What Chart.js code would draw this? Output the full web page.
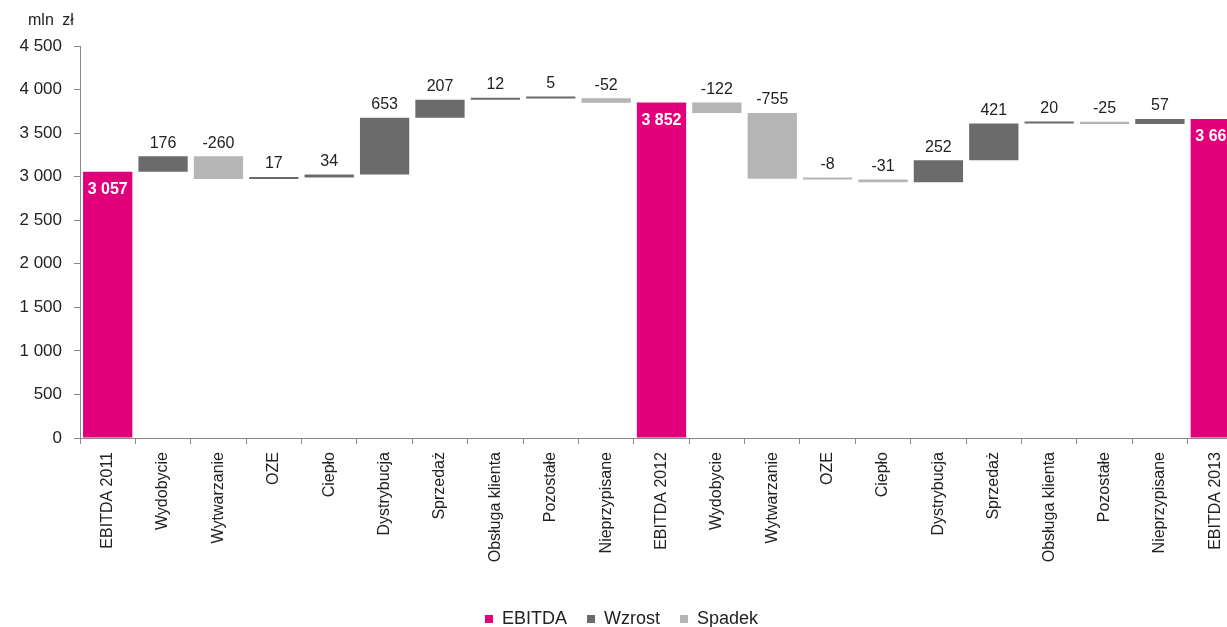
<!DOCTYPE html>
<html>
<head>
<meta charset="utf-8">
<script src="https://cdn.jsdelivr.net/npm/chart.js@4.4.0/dist/chart.umd.min.js"></script>
<style>
  body { margin: 0; overflow: hidden; background: #fff; }
  #wrap { position: relative; width: 1264px; height: 627px; }
  #unit { position: absolute; left: 28px; top: 11px; font: 16px "Liberation Sans", Arial, sans-serif; color: #222; word-spacing: 4px; }
</style>
</head>
<body>
<div id="wrap">
  <div id="unit">mln zł</div>
  <canvas id="chart" width="1264" height="627"></canvas>
</div>
<script>
// EBITDA bridge 2011 -> 2012 -> 2013, mln zł
const categories = ['EBITDA 2011', 'Wydobycie', 'Wytwarzanie', 'OZE', 'Ciepło', 'Dystrybucja', 'Sprzedaż',
  'Obsługa klienta', 'Pozostałe', 'Nieprzypisane', 'EBITDA 2012', 'Wydobycie', 'Wytwarzanie', 'OZE', 'Ciepło',
  'Dystrybucja', 'Sprzedaż', 'Obsługa klienta', 'Pozostałe', 'Nieprzypisane', 'EBITDA 2013'];
const values = [3057, 176, -260, 17, 34, 653, 207, 12, 5, -52, 3852, -122, -755, -8, -31, 252, 421, 20, -25, 57, 3661];
const totals = [0, 10, 20];   // indices of the EBITDA columns
const yTicks = [0, 500, 1000, 1500, 2000, 2500, 3000, 3500, 4000, 4500];

const PINK = '#e2007a', DARK = '#6b6b6b', LIGHT = '#b5b5b5';

const fmt = v => String(v).replace(/\B(?=(\d{3})+(?!\d))/g, ' ');

// floating ranges for the waterfall
const ebitda = [], up = [], down = [];
let run = 0;
values.forEach((v, i) => {
  if (totals.includes(i)) {
    ebitda.push([0, v]); up.push(null); down.push(null);
    run = v;
  } else {
    const r = [run, run + v];
    ebitda.push(null);
    up.push(v >= 0 ? r : null);
    down.push(v < 0 ? r : null);
    run += v;
  }
});

const valueLabels = {
  id: 'valueLabels',
  afterDatasetsDraw(chart) {
    const ctx = chart.ctx;
    ctx.save();
    ctx.textAlign = 'center';
    chart.data.datasets.forEach((ds, di) => {
      chart.getDatasetMeta(di).data.forEach((bar, i) => {
        if (!ds.data[i]) return;
        const top = Math.min(bar.y, bar.base);
        if (di === 0) {
          ctx.fillStyle = '#fff';
          ctx.font = 'bold 16px "Liberation Sans", Arial, sans-serif';
          ctx.textBaseline = 'middle';
          ctx.fillText(fmt(values[i]), bar.x, top + 18);
        } else {
          ctx.fillStyle = '#222';
          ctx.font = '16px "Liberation Sans", Arial, sans-serif';
          ctx.textBaseline = 'bottom';
          ctx.fillText(fmt(values[i]), bar.x, top - 5);
        }
      });
    });
    ctx.restore();
  }
};

const barCommon = { grouped: false, barPercentage: 0.89, categoryPercentage: 1.0, borderWidth: 0, minBarLength: 2 };

new Chart(document.getElementById('chart'), {
  type: 'bar',
  data: {
    labels: categories,
    datasets: [
      Object.assign({ label: 'EBITDA', data: ebitda, backgroundColor: PINK }, barCommon),
      Object.assign({ label: 'Wzrost', data: up, backgroundColor: DARK }, barCommon),
      Object.assign({ label: 'Spadek', data: down, backgroundColor: LIGHT }, barCommon)
    ]
  },
  options: {
    responsive: false,
    animation: false,
    layout: { padding: { top: 46, right: 21, left: 0, bottom: -11 } },
    plugins: {
      tooltip: { enabled: false },
      legend: {
        position: 'bottom',
        labels: {
          boxWidth: 8, boxHeight: 8, padding: 20,
          color: '#222',
          font: { family: '"Liberation Sans", Arial, sans-serif', size: 18 }
        }
      }
    },
    scales: {
      x: {
        grid: { offset: true, drawOnChartArea: false, tickLength: 6, color: '#888' },
        border: { color: '#888' },
        ticks: {
          minRotation: 90, maxRotation: 90, padding: 8, color: '#222',
          font: { family: '"Liberation Sans", Arial, sans-serif', size: 16 }
        },
        afterFit(scale) { scale.height = 152; }
      },
      y: {
        min: 0, max: 4500,
        grid: { drawOnChartArea: false, tickLength: 6, color: '#888' },
        border: { color: '#888' },
        afterBuildTicks(scale) { scale.ticks = yTicks.map(v => ({ value: v })); },
        ticks: {
          padding: 12, color: '#222',
          font: { family: '"Liberation Sans", Arial, sans-serif', size: 17 },
          callback: v => fmt(v)
        },
        afterFit(scale) { scale.width = 80; }
      }
    }
  },
  plugins: [valueLabels]
});
</script>
</body>
</html>
